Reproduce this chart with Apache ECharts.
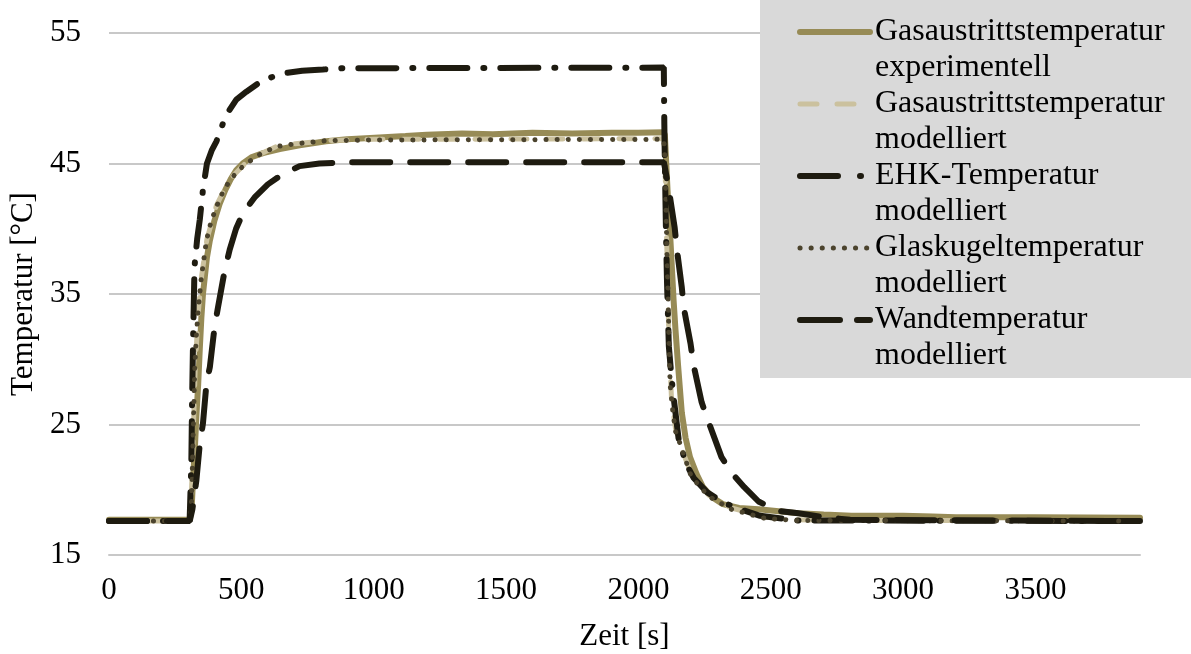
<!DOCTYPE html>
<html>
<head>
<meta charset="utf-8">
<script src="https://cdn.jsdelivr.net/npm/echarts@6/dist/echarts.min.js"></script>
<style>html,body{margin:0;padding:0;background:#fff}#c{width:1191px;height:654px}</style>
</head>
<body>
<div id="c"></div>
<script>
// ---- data (time in s, temperature in °C) ----
const seriesNames = [
  'Gasaustrittstemperatur\nexperimentell',
  'Gasaustrittstemperatur\nmodelliert',
  'EHK-Temperatur\nmodelliert',
  'Glaskugeltemperatur\nmodelliert',
  'Wandtemperatur\nmodelliert'
];
const xTickLabels = ['0','500','1000','1500','2000','2500','3000','3500'];
const yTickLabels = ['15','25','35','45','55'];

const expT = [0,305,312,318,324,330,337,343,349,355,362,370,381,398,418,440,460,481,505,540,582,645,720,820,900,1021,1120,1200,1334,1450,1600,1750,1900,2000,2096,2100,2110,2120,2133,2140,2150,2164,2178,2195,2220,2244,2280,2319,2380,2454,2530,2605,2700,2805,2906,3000,3112,3200,3500,3895];
const expV = [17.7,17.7,18.5,21.0,23.0,25.6,28.1,30.8,33.2,35.0,36.3,37.8,39.1,40.6,41.9,43.0,43.8,44.5,45.0,45.5,45.8,46.1,46.4,46.7,46.85,47.0,47.1,47.2,47.3,47.25,47.35,47.3,47.35,47.35,47.4,47.2,43.0,39.5,34.5,32.3,29.5,25.9,24.0,22.5,21.2,20.2,19.4,18.9,18.6,18.5,18.35,18.2,18.1,18.0,18.0,18.0,17.95,17.9,17.9,17.85];

const gasModT = [0,303,310,318,326,337,350,370,406,456,519,570,632,700,820,1000,2096,2100,2108,2116,2125,2140,2160,2200,2265,2352,2480,2600,2800,3895];
const gasModV = [17.6,17.6,18.5,24.0,29.5,33.5,36.4,39.2,41.8,43.8,45.1,45.7,46.3,46.5,46.75,46.85,46.9,45.5,38.0,31.0,27.0,24.7,23.3,21.2,19.6,18.6,17.9,17.7,17.65,17.65];

const ehkT = [0,303,305,311,314,317,323,333,343,355,370,388,406,431,455,481,519,582,657,730,808,883,2096,2098,2100,2104,2108,2115,2126,2133,2152,2180,2209,2260,2322,2400,2460,2600,3895];
const ehkV = [17.6,17.6,17.9,22.0,27.0,30.7,37.1,39.2,40.7,43.0,45.0,46.0,46.7,48.1,49.1,49.9,50.5,51.4,51.9,52.1,52.2,52.3,52.35,48.0,45.0,40.0,36.0,31.0,28.4,27.1,23.9,22.0,20.9,19.8,19.0,18.4,18.0,17.65,17.6];

const glasT = [0,303,308,312,318,324,330,337,349,368,385,406,430,456,490,519,570,632,700,820,1000,2096,2100,2104,2108,2112,2116,2120,2130,2140,2158,2200,2265,2352,2480,2600,3895];
const glasV = [17.6,17.6,18.0,19.2,24.3,29.4,31.8,33.8,36.3,39.1,40.5,41.7,42.8,43.7,44.5,45.0,45.7,46.3,46.5,46.75,46.8,46.85,45.5,42.0,38.0,35.0,31.0,28.0,26.0,24.5,23.5,21.0,19.5,18.5,17.8,17.65,17.6];

const wandT = [0,305,315,322,330,343,355,368,381,399,412,437,456,480,506,550,600,650,720,795,900,2096,2100,2115,2137,2145,2164,2171,2197,2209,2239,2265,2314,2352,2400,2454,2522,2605,2700,2800,3895];
const wandV = [17.6,17.6,18.5,19.5,20.7,23.5,25.1,28.1,29.4,32.5,34.0,36.8,38.4,40.0,41.2,42.4,43.4,44.1,44.8,45.0,45.1,45.1,44.7,43.0,40.1,38.5,35.5,34.0,31.2,29.5,26.7,25.2,22.5,21.3,20.2,19.1,18.4,18.2,17.9,17.7,17.6];

// ---- build ----
const zip = (t, v) => t.map((x, i) => [x, v[i]]);
const FONT = "'Liberation Serif','Times New Roman',serif";

const styles = [
  {color:'#978B56', width:6, type:'solid', cap:'round'},
  {color:'#CBC19E', width:5, type:[16,20], cap:'round'},
  {color:'#1E1B10', width:6, type:[38,16,1,16], cap:'round'},
  {color:'#4B432D', width:5, type:[0.1,11], cap:'round'},
  {color:'#1E1B10', width:6, type:[38,20], cap:'round'}
];
const legendLineTypes = ['solid', [17,20], [38,22,1,22], [0.1,11], [40,17]];
const datasets = [zip(expT,expV), zip(gasModT,gasModV), zip(ehkT,ehkV), zip(glasT,glasV), zip(wandT,wandV)];

const series = seriesNames.map((n, i) => ({
  name: n,
  type: 'line',
  data: datasets[i],
  showSymbol: false,
  symbol: 'none',
  animation: false,
  color: styles[i].color,
  lineStyle: styles[i],
  z: 2 + i
}));

const legendData = seriesNames.map((n, i) => ({
  name: n,
  itemStyle: {opacity: 0},
  lineStyle: {color: styles[i].color, width: styles[i].width, type: legendLineTypes[i], cap: 'round', opacity: 1}
}));

const chart = echarts.init(document.getElementById('c'), null, {renderer:'canvas'});
chart.setOption({
  animation: false,
  backgroundColor: '#ffffff',
  textStyle: {fontFamily: FONT},
  grid: {left:109, right:51, top:33, bottom:99, outerBoundsMode:'none', containLabel:false},
  xAxis: {
    type: 'value', min: 0, max: 3895, interval: 500,
    name: 'Zeit [s]', nameLocation: 'middle', nameGap: 66,
    nameTextStyle: {fontSize:31, color:'#000', fontFamily: FONT},
    axisLine: {show:true, lineStyle:{color:'#C8C8C8', width:2}},
    axisTick: {show:false},
    splitLine: {show:false},
    axisLabel: {fontSize:31, color:'#000', fontFamily: FONT, margin:20, showMaxLabel:false,
      formatter: v => xTickLabels.includes(String(v)) ? String(v) : ''}
  },
  yAxis: {
    type: 'value', min: 15, max: 55, interval: 10,
    name: 'Temperatur [°C]', nameLocation: 'middle', nameGap: 64, nameRotate: 90,
    nameTextStyle: {fontSize:31, color:'#000', fontFamily: FONT},
    axisLine: {show:false},
    axisTick: {show:false},
    splitLine: {show:true, lineStyle:{color:'#C8C8C8', width:2}},
    axisLabel: {fontSize:31, color:'#000', fontFamily: FONT, margin:28,
      formatter: v => yTickLabels.includes(String(v)) ? String(v) : ''}
  },
  graphic: [{type:'rect', left:760, top:0, shape:{width:431, height:378}, style:{fill:'#D9D9D9'}, z:3, silent:true}],
  legend: {
    orient: 'vertical', left: 797, top: -22, padding: 0,
    itemWidth: 70, itemHeight: 14, itemGap: -36,
    z: 5,
    formatter: name => '\n' + name,
    textStyle: {fontSize:32, lineHeight:36, color:'#000', fontFamily: FONT},
    data: legendData
  },
  series: series
});
</script>
</body>
</html>
